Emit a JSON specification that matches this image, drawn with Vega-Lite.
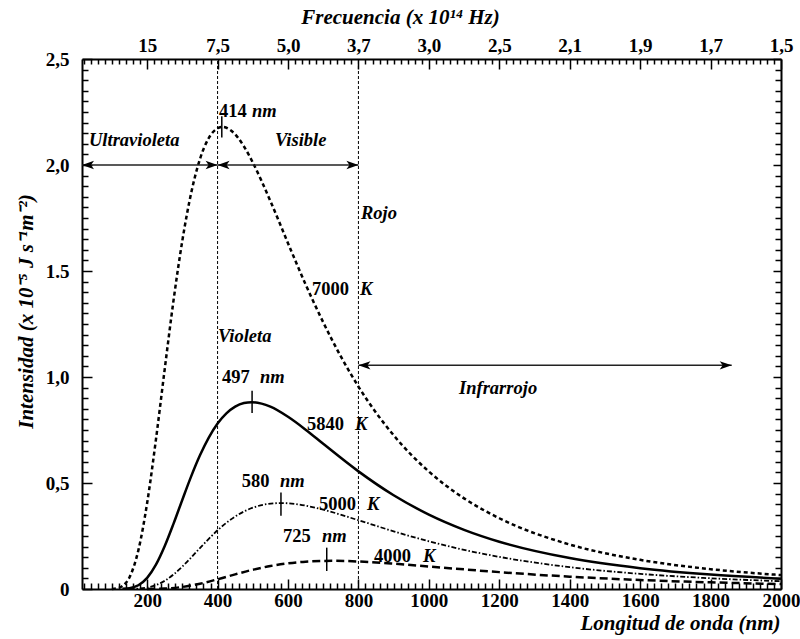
{
  "$schema": "https://vega.github.io/schema/vega-lite/v6.json",
  "width": 699,
  "height": 530,
  "autosize": "none",
  "padding": {"left": 82, "top": 59, "right": 19, "bottom": 50},
  "background": "white",
  "config": {
    "view": {"stroke": null},
    "axis": {
      "grid": false,
      "domainColor": "black",
      "domainWidth": 2,
      "tickColor": "black",
      "tickWidth": 1.5,
      "labelFont": "Liberation Serif",
      "labelFontSize": 19,
      "labelFontWeight": "bold",
      "labelColor": "black",
      "labelFlush": false,
      "labelOverlap": false,
      "titleFont": "Liberation Serif",
      "titleFontSize": 21,
      "titleFontWeight": "bold",
      "titleFontStyle": "italic",
      "titleColor": "black"
    }
  },
  "datasets": {
    "curves": [
      {"wl": 100, "I": 0.0004, "T": "7000"}, {"wl": 120, "I": 0.0055, "T": "7000"}, {"wl": 130, "I": 0.0138, "T": "7000"},
      {"wl": 150, "I": 0.0556, "T": "7000"}, {"wl": 175, "I": 0.1822, "T": "7000"}, {"wl": 200, "I": 0.4058, "T": "7000"},
      {"wl": 225, "I": 0.7054, "T": "7000"}, {"wl": 250, "I": 1.0387, "T": "7000"}, {"wl": 275, "I": 1.3623, "T": "7000"},
      {"wl": 300, "I": 1.6439, "T": "7000"}, {"wl": 325, "I": 1.8679, "T": "7000"}, {"wl": 350, "I": 2.0279, "T": "7000"},
      {"wl": 375, "I": 2.1273, "T": "7000"}, {"wl": 400, "I": 2.1733, "T": "7000"}, {"wl": 414, "I": 2.18, "T": "7000"},
      {"wl": 440, "I": 2.1605, "T": "7000"}, {"wl": 475, "I": 2.0874, "T": "7000"}, {"wl": 500, "I": 2.0117, "T": "7000"},
      {"wl": 550, "I": 1.83, "T": "7000"}, {"wl": 600, "I": 1.631, "T": "7000"}, {"wl": 650, "I": 1.4366, "T": "7000"},
      {"wl": 700, "I": 1.2581, "T": "7000"}, {"wl": 750, "I": 1.0969, "T": "7000"}, {"wl": 800, "I": 0.9548, "T": "7000"},
      {"wl": 900, "I": 0.7251, "T": "7000"}, {"wl": 1000, "I": 0.554, "T": "7000"}, {"wl": 1100, "I": 0.4276, "T": "7000"},
      {"wl": 1200, "I": 0.3337, "T": "7000"}, {"wl": 1400, "I": 0.2098, "T": "7000"}, {"wl": 1600, "I": 0.1376, "T": "7000"},
      {"wl": 1800, "I": 0.0936, "T": "7000"}, {"wl": 2000, "I": 0.0657, "T": "7000"},

      {"wl": 130, "I": 0.0006, "T": "5840"}, {"wl": 150, "I": 0.0037, "T": "5840"}, {"wl": 175, "I": 0.0177, "T": "5840"},
      {"wl": 200, "I": 0.0527, "T": "5840"}, {"wl": 225, "I": 0.1148, "T": "5840"}, {"wl": 250, "I": 0.2028, "T": "5840"},
      {"wl": 275, "I": 0.3084, "T": "5840"}, {"wl": 300, "I": 0.4212, "T": "5840"}, {"wl": 325, "I": 0.5311, "T": "5840"},
      {"wl": 350, "I": 0.6304, "T": "5840"}, {"wl": 375, "I": 0.7141, "T": "5840"}, {"wl": 400, "I": 0.7804, "T": "5840"},
      {"wl": 425, "I": 0.8285, "T": "5840"}, {"wl": 450, "I": 0.8604, "T": "5840"}, {"wl": 475, "I": 0.877, "T": "5840"},
      {"wl": 497, "I": 0.881, "T": "5840"}, {"wl": 525, "I": 0.8743, "T": "5840"}, {"wl": 550, "I": 0.86, "T": "5840"},
      {"wl": 600, "I": 0.8123, "T": "5840"}, {"wl": 650, "I": 0.7516, "T": "5840"}, {"wl": 700, "I": 0.6848, "T": "5840"},
      {"wl": 800, "I": 0.5548, "T": "5840"}, {"wl": 900, "I": 0.4421, "T": "5840"}, {"wl": 1000, "I": 0.351, "T": "5840"},
      {"wl": 1100, "I": 0.2792, "T": "5840"}, {"wl": 1200, "I": 0.2231, "T": "5840"}, {"wl": 1400, "I": 0.1458, "T": "5840"},
      {"wl": 1600, "I": 0.0982, "T": "5840"}, {"wl": 1800, "I": 0.0681, "T": "5840"}, {"wl": 2000, "I": 0.0486, "T": "5840"},

      {"wl": 150, "I": 0.0002, "T": "5000"}, {"wl": 175, "I": 0.0017, "T": "5000"}, {"wl": 200, "I": 0.0067, "T": "5000"},
      {"wl": 225, "I": 0.0183, "T": "5000"}, {"wl": 250, "I": 0.0387, "T": "5000"}, {"wl": 275, "I": 0.0685, "T": "5000"},
      {"wl": 300, "I": 0.106, "T": "5000"}, {"wl": 325, "I": 0.1486, "T": "5000"}, {"wl": 350, "I": 0.1931, "T": "5000"},
      {"wl": 375, "I": 0.2365, "T": "5000"}, {"wl": 400, "I": 0.277, "T": "5000"}, {"wl": 450, "I": 0.3421, "T": "5000"},
      {"wl": 500, "I": 0.3834, "T": "5000"}, {"wl": 540, "I": 0.4005, "T": "5000"}, {"wl": 580, "I": 0.4053, "T": "5000"},
      {"wl": 620, "I": 0.4011, "T": "5000"}, {"wl": 650, "I": 0.3933, "T": "5000"}, {"wl": 700, "I": 0.3742, "T": "5000"},
      {"wl": 800, "I": 0.3244, "T": "5000"}, {"wl": 900, "I": 0.2722, "T": "5000"}, {"wl": 1000, "I": 0.225, "T": "5000"},
      {"wl": 1100, "I": 0.1848, "T": "5000"}, {"wl": 1200, "I": 0.1516, "T": "5000"}, {"wl": 1400, "I": 0.103, "T": "5000"},
      {"wl": 1600, "I": 0.0714, "T": "5000"}, {"wl": 1800, "I": 0.0506, "T": "5000"}, {"wl": 2000, "I": 0.0367, "T": "5000"},

      {"wl": 200, "I": 0.0002, "T": "4000"}, {"wl": 250, "I": 0.0022, "T": "4000"}, {"wl": 300, "I": 0.0096, "T": "4000"},
      {"wl": 350, "I": 0.0247, "T": "4000"}, {"wl": 400, "I": 0.0458, "T": "4000"}, {"wl": 450, "I": 0.0691, "T": "4000"},
      {"wl": 500, "I": 0.0908, "T": "4000"}, {"wl": 550, "I": 0.1084, "T": "4000"}, {"wl": 600, "I": 0.1211, "T": "4000"},
      {"wl": 650, "I": 0.129, "T": "4000"}, {"wl": 725, "I": 0.1328, "T": "4000"}, {"wl": 800, "I": 0.1298, "T": "4000"},
      {"wl": 900, "I": 0.1196, "T": "4000"}, {"wl": 1000, "I": 0.1063, "T": "4000"}, {"wl": 1100, "I": 0.0926, "T": "4000"},
      {"wl": 1200, "I": 0.0796, "T": "4000"}, {"wl": 1400, "I": 0.0582, "T": "4000"}, {"wl": 1600, "I": 0.0425, "T": "4000"},
      {"wl": 1800, "I": 0.0313, "T": "4000"}, {"wl": 2000, "I": 0.0234, "T": "4000"}
    ],
    "peaks": [
      {"wl": 412, "lo": 2.13, "hi": 2.23},
      {"wl": 498, "lo": 0.83, "hi": 0.935},
      {"wl": 580, "lo": 0.345, "hi": 0.455},
      {"wl": 710, "lo": 0.085, "hi": 0.195}
    ],
    "bounds": [
      {"wl": 400, "lo": 0, "hi": 2.5},
      {"wl": 800, "lo": 0, "hi": 2.5}
    ],
    "arrows": [
      {"from": 15, "to": 400, "level": 2.0},
      {"from": 400, "to": 800, "level": 2.0},
      {"from": 800, "to": 1860, "level": 1.055}
    ],
    "headsLeft": [
      {"wl": 15, "level": 2.0},
      {"wl": 400, "level": 2.0},
      {"wl": 800, "level": 1.055}
    ],
    "headsRight": [
      {"wl": 400, "level": 2.0},
      {"wl": 800, "level": 2.0},
      {"wl": 1860, "level": 1.055}
    ],
    "uprightText": [
      {"wl": 404, "level": 2.226, "label": "414"},
      {"wl": 668, "level": 1.387, "label": "7000"},
      {"wl": 412.6, "level": 0.972, "label": "497"},
      {"wl": 654, "level": 0.75, "label": "5840"},
      {"wl": 469, "level": 0.481, "label": "580"},
      {"wl": 688, "level": 0.3726, "label": "5000"},
      {"wl": 585.8, "level": 0.2217, "label": "725"},
      {"wl": 844.2, "level": 0.1274, "label": "4000"}
    ],
    "italicText": [
      {"wl": 497.8, "level": 2.226, "label": "nm"},
      {"wl": 34.9, "level": 2.09, "label": "Ultravioleta"},
      {"wl": 563, "level": 2.09, "label": "Visible"},
      {"wl": 807.3, "level": 1.745, "label": "Rojo"},
      {"wl": 804.5, "level": 1.387, "label": "K"},
      {"wl": 401, "level": 1.165, "label": "Violeta"},
      {"wl": 1085.6, "level": 0.92, "label": "Infrarrojo"},
      {"wl": 520.5, "level": 0.972, "label": "nm"},
      {"wl": 790.3, "level": 0.75, "label": "K"},
      {"wl": 577.3, "level": 0.481, "label": "nm"},
      {"wl": 824.3, "level": 0.3726, "label": "K"},
      {"wl": 696.6, "level": 0.2217, "label": "nm"},
      {"wl": 983.4, "level": 0.1274, "label": "K"}
    ]
  },
  "resolve": {"axis": {"x": "independent", "y": "independent"}},
  "layer": [
    {
      "data": {"name": "bounds"},
      "mark": {"type": "rule", "color": "black", "strokeWidth": 1, "strokeDash": [3, 2]},
      "encoding": {
        "x": {"field": "wl", "type": "quantitative", "scale": {"domain": [15, 2000], "nice": false, "zero": false},
          "axis": {
            "orient": "top",
            "title": "Frecuencia (x 10¹⁴ Hz)",
            "titleX": 318, "titleY": -36, "titleBaseline": "alphabetic", "titleAlign": "center", "titleAnchor": null,
            "values": [20,40,60,80,100,120,140,160,180,200,220,240,260,280,300,320,340,360,380,400,420,440,460,480,500,520,540,560,580,600,620,640,660,680,700,720,740,760,780,800,820,840,860,880,900,920,940,960,980,1000,1020,1040,1060,1080,1100,1120,1140,1160,1180,1200,1220,1240,1260,1280,1300,1320,1340,1360,1380,1400,1420,1440,1460,1480,1500,1520,1540,1560,1580,1600,1620,1640,1660,1680,1700,1720,1740,1760,1780,1800,1820,1840,1860,1880,1900,1920,1940,1960,1980,2000],
            "labelExpr": "datum.value == 200 ? '15' : datum.value == 400 ? '7,5' : datum.value == 600 ? '5,0' : datum.value == 800 ? '3,7' : datum.value == 1000 ? '3,0' : datum.value == 1200 ? '2,5' : datum.value == 1400 ? '2,1' : datum.value == 1600 ? '1,9' : datum.value == 1800 ? '1,7' : datum.value == 2000 ? '1,5' : ''",
            "tickSize": {"condition": {"test": "datum.value % 200 === 0", "value": -10}, "value": -5},
            "labelPadding": 14
          }},
        "y": {"field": "lo", "type": "quantitative", "scale": {"domain": [0, 2.5], "nice": false},
          "axis": {
            "orient": "right",
            "title": null,
            "labels": false,
            "values": [0,0.05,0.1,0.15,0.2,0.25,0.3,0.35,0.4,0.45,0.5,0.55,0.6,0.65,0.7,0.75,0.8,0.85,0.9,0.95,1,1.05,1.1,1.15,1.2,1.25,1.3,1.35,1.4,1.45,1.5,1.55,1.6,1.65,1.7,1.75,1.8,1.85,1.9,1.95,2,2.05,2.1,2.15,2.2,2.25,2.3,2.35,2.4,2.45,2.5],
            "tickSize": {"condition": {"test": "abs(datum.value*2 - round(datum.value*2)) < 0.001", "value": -8}, "value": -6}
          }},
        "y2": {"field": "hi"}
      }
    },
    {
      "data": {"name": "curves"},
      "transform": [{"filter": "datum.T === '7000'"}],
      "mark": {"type": "line", "color": "black", "strokeWidth": 2.5, "strokeDash": [4, 3], "interpolate": "monotone"},
      "encoding": {
        "x": {"field": "wl", "type": "quantitative", "scale": {"domain": [15, 2000], "nice": false, "zero": false},
          "axis": {
            "orient": "bottom",
            "title": "Longitud de onda (nm)",
            "titleX": 698, "titleY": 40, "titleBaseline": "alphabetic", "titleAlign": "right", "titleAnchor": null,
            "values": [20,40,60,80,100,120,140,160,180,200,220,240,260,280,300,320,340,360,380,400,420,440,460,480,500,520,540,560,580,600,620,640,660,680,700,720,740,760,780,800,820,840,860,880,900,920,940,960,980,1000,1020,1040,1060,1080,1100,1120,1140,1160,1180,1200,1220,1240,1260,1280,1300,1320,1340,1360,1380,1400,1420,1440,1460,1480,1500,1520,1540,1560,1580,1600,1620,1640,1660,1680,1700,1720,1740,1760,1780,1800,1820,1840,1860,1880,1900,1920,1940,1960,1980,2000],
            "labelExpr": "datum.value % 200 === 0 ? '' + datum.value : ''",
            "tickSize": {"condition": {"test": "datum.value % 200 === 0", "value": -10}, "value": -6},
            "labelPadding": 12
          }},
        "y": {"field": "I", "type": "quantitative", "scale": {"domain": [0, 2.5], "nice": false},
          "axis": {
            "orient": "left",
            "title": "Intensidad (x 10⁻⁵ J s⁻¹m⁻²)",
            "titleX": -50, "titleY": 252, "titleBaseline": "alphabetic", "titleAlign": "center", "titleAngle": 270, "titleAnchor": null,
            "values": [0,0.05,0.1,0.15,0.2,0.25,0.3,0.35,0.4,0.45,0.5,0.55,0.6,0.65,0.7,0.75,0.8,0.85,0.9,0.95,1,1.05,1.1,1.15,1.2,1.25,1.3,1.35,1.4,1.45,1.5,1.55,1.6,1.65,1.7,1.75,1.8,1.85,1.9,1.95,2,2.05,2.1,2.15,2.2,2.25,2.3,2.35,2.4,2.45,2.5],
            "labelExpr": "datum.value === 0 ? '0' : datum.value === 0.5 ? '0,5' : datum.value === 1 ? '1,0' : datum.value === 1.5 ? '1.5' : datum.value === 2 ? '2,0' : datum.value === 2.5 ? '2,5' : ''",
            "tickSize": {"condition": {"test": "abs(datum.value*2 - round(datum.value*2)) < 0.001", "value": -10}, "value": -6},
            "labelPadding": 23
          }}
      }
    },
    {
      "data": {"name": "curves"},
      "transform": [{"filter": "datum.T === '5840'"}],
      "mark": {"type": "line", "color": "black", "strokeWidth": 2.5, "interpolate": "monotone"},
      "encoding": {
        "x": {"field": "wl", "type": "quantitative", "scale": {"domain": [15, 2000], "nice": false, "zero": false}, "axis": null},
        "y": {"field": "I", "type": "quantitative", "scale": {"domain": [0, 2.5], "nice": false}, "axis": null}
      }
    },
    {
      "data": {"name": "curves"},
      "transform": [{"filter": "datum.T === '5000'"}],
      "mark": {"type": "line", "color": "black", "strokeWidth": 1.8, "strokeDash": [5, 2, 1.5, 2], "interpolate": "monotone"},
      "encoding": {
        "x": {"field": "wl", "type": "quantitative", "scale": {"domain": [15, 2000], "nice": false, "zero": false}, "axis": null},
        "y": {"field": "I", "type": "quantitative", "scale": {"domain": [0, 2.5], "nice": false}, "axis": null}
      }
    },
    {
      "data": {"name": "curves"},
      "transform": [{"filter": "datum.T === '4000'"}],
      "mark": {"type": "line", "color": "black", "strokeWidth": 2.5, "strokeDash": [8, 4], "interpolate": "monotone"},
      "encoding": {
        "x": {"field": "wl", "type": "quantitative", "scale": {"domain": [15, 2000], "nice": false, "zero": false}, "axis": null},
        "y": {"field": "I", "type": "quantitative", "scale": {"domain": [0, 2.5], "nice": false}, "axis": null}
      }
    },
    {
      "data": {"name": "peaks"},
      "mark": {"type": "rule", "color": "black", "strokeWidth": 1.5},
      "encoding": {
        "x": {"field": "wl", "type": "quantitative", "scale": {"domain": [15, 2000], "nice": false, "zero": false}, "axis": null},
        "y": {"field": "lo", "type": "quantitative", "scale": {"domain": [0, 2.5], "nice": false}, "axis": null},
        "y2": {"field": "hi"}
      }
    },
    {
      "data": {"name": "arrows"},
      "mark": {"type": "rule", "color": "#222222", "strokeWidth": 1.5},
      "encoding": {
        "x": {"field": "from", "type": "quantitative", "scale": {"domain": [15, 2000], "nice": false, "zero": false}, "axis": null},
        "x2": {"field": "to"},
        "y": {"field": "level", "type": "quantitative", "scale": {"domain": [0, 2.5], "nice": false}, "axis": null}
      }
    },
    {
      "data": {"name": "headsLeft"},
      "mark": {"type": "point", "filled": true, "color": "black", "opacity": 1, "size": 144, "shape": "M0,0L2,-0.7L1.5,0L2,0.7Z"},
      "encoding": {
        "x": {"field": "wl", "type": "quantitative", "scale": {"domain": [15, 2000], "nice": false, "zero": false}, "axis": null},
        "y": {"field": "level", "type": "quantitative", "scale": {"domain": [0, 2.5], "nice": false}, "axis": null}
      }
    },
    {
      "data": {"name": "headsRight"},
      "mark": {"type": "point", "filled": true, "color": "black", "opacity": 1, "size": 144, "shape": "M0,0L-2,-0.7L-1.5,0L-2,0.7Z"},
      "encoding": {
        "x": {"field": "wl", "type": "quantitative", "scale": {"domain": [15, 2000], "nice": false, "zero": false}, "axis": null},
        "y": {"field": "level", "type": "quantitative", "scale": {"domain": [0, 2.5], "nice": false}, "axis": null}
      }
    },
    {
      "data": {"name": "uprightText"},
      "mark": {"type": "text", "font": "Liberation Serif", "fontSize": 18.5, "fontWeight": "bold", "align": "left", "baseline": "alphabetic", "color": "black"},
      "encoding": {
        "x": {"field": "wl", "type": "quantitative", "scale": {"domain": [15, 2000], "nice": false, "zero": false}, "axis": null},
        "y": {"field": "level", "type": "quantitative", "scale": {"domain": [0, 2.5], "nice": false}, "axis": null},
        "text": {"field": "label"}
      }
    },
    {
      "data": {"name": "italicText"},
      "mark": {"type": "text", "font": "Liberation Serif", "fontSize": 18.5, "fontWeight": "bold", "fontStyle": "italic", "align": "left", "baseline": "alphabetic", "color": "black"},
      "encoding": {
        "x": {"field": "wl", "type": "quantitative", "scale": {"domain": [15, 2000], "nice": false, "zero": false}, "axis": null},
        "y": {"field": "level", "type": "quantitative", "scale": {"domain": [0, 2.5], "nice": false}, "axis": null},
        "text": {"field": "label"}
      }
    }
  ]
}
